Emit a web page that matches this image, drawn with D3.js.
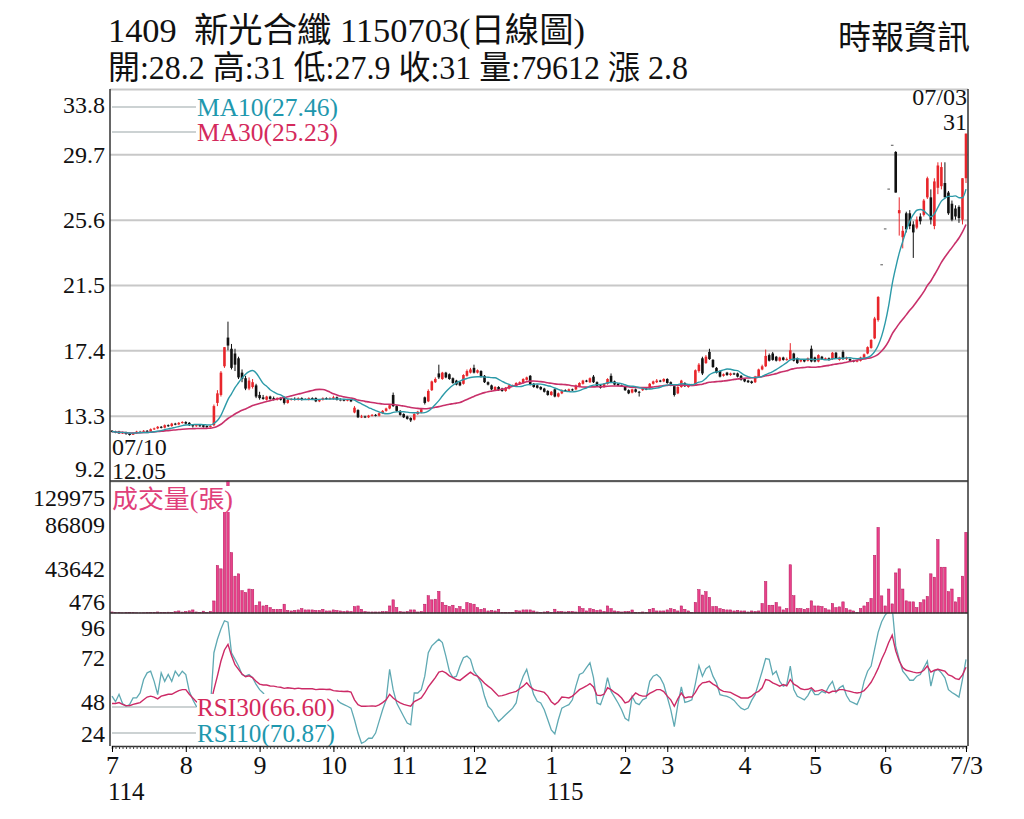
<!DOCTYPE html>
<html>
<head>
<meta charset="utf-8">
<script src="https://cdn.jsdelivr.net/npm/d3@7/dist/d3.min.js"></script>
<style>
body { margin: 0; background: #fff; }
text { font-family: "Liberation Serif", "Noto Sans CJK TC", serif; }
</style>
</head>
<body>
<div class="canvas"></div>
<script>
// daily candles, 2025/07/03 .. 2026/07/03 (one row per month)
const openPrice = [
  12.35,12.3,12.3,12.2,12.25,12.15,12.1,12.2,12.3,12.3,12.35,12.3,12.45,12.5,12.6,12.55,12.7,12.65,12.8,12.75,12.85,
  12.9,12.85,12.7,12.65,12.7,12.7,12.65,12.6,12.7,14.1,14.6,16.4,18.2,17.5,17.2,16.9,16.0,15.65,15.0,15.1,15.2,
  14.6,14.45,14.3,14.5,14.4,14.3,14.4,14.45,14.1,14.3,14.35,14.3,14.4,14.35,14.3,14.4,14.4,14.2,14.3,14.4,14.35,
  14.35,14.45,14.3,14.3,14.25,14.3,13.5,13.65,13.2,13.25,13.2,13.3,13.35,13.3,13.45,13.6,13.75,14.6,13.9,13.6,
  13.4,13.25,13.15,13.05,13.4,13.5,14.45,14.2,14.9,15.4,15.95,15.6,16.0,15.9,15.65,15.5,15.4,15.3,15.8,16.0,
  16.3,16.0,16.1,15.8,15.4,15.2,14.9,15.1,15.0,14.85,15.0,15.15,15.15,15.3,15.35,15.55,15.8,15.3,15.2,15.1,15.0,14.85,
  14.6,14.95,14.5,14.7,14.9,14.85,14.95,14.95,15.15,15.3,15.5,15.4,15.75,15.4,15.2,15.1,15.3,15.8,15.45,15.3,15.2,
  15.1,14.9,14.75,14.95,14.8,14.9,15.0,15.0,15.3,15.4,15.5,15.45,
  15.6,15.4,15.15,14.7,15.1,15.35,15.1,15.2,15.25,16.1,16.9,16.6,17.3,16.8,16.3,16.1,15.8,16.0,15.85,15.95,15.95,15.8,
  15.6,15.5,15.45,15.4,15.75,16.2,16.4,17.1,17.2,17.0,16.75,16.95,16.8,16.85,17.2,16.9,16.7,16.8,16.75,17.5,
  16.95,16.7,17.0,16.85,16.9,16.85,17.25,16.8,17.3,16.85,16.85,16.75,16.7,16.75,16.95,17.2,17.55,18.15,19.3,22.8,
  25.05,27.55,30.3,29.85,26.0,24.5,26.0,26.0,25.3,25.1,25.8,25.9,27.0,27.0,25.2,27.6,27.7,27.9,27.3,26.6,26.3,
  26.4,25.6,28.2
];
const highPrice = [
  12.4,12.35,12.35,12.3,12.3,12.2,12.25,12.35,12.35,12.4,12.4,12.5,12.55,12.65,12.65,12.75,12.75,12.85,12.85,12.9,12.95,
  12.95,12.9,12.75,12.75,12.75,12.75,12.7,12.7,14.0,14.9,16.1,17.6,19.2,17.8,17.5,17.0,16.2,15.8,15.7,15.6,15.3,
  14.8,14.6,14.55,14.55,14.5,14.45,14.45,14.5,14.35,14.4,14.45,14.45,14.45,14.4,14.45,14.45,14.45,14.35,14.45,14.45,14.45,
  14.55,14.5,14.4,14.35,14.35,14.35,13.9,13.7,13.35,13.3,13.35,13.4,13.4,13.5,13.65,13.8,14.0,14.75,13.95,13.65,
  13.45,13.3,13.2,13.45,13.6,13.75,14.5,14.95,15.5,15.7,16.5,16.05,16.05,15.95,15.7,15.55,15.45,15.9,16.2,16.3,
  16.5,16.2,16.15,15.85,15.45,15.25,15.15,15.15,15.05,15.1,15.25,15.25,15.4,15.45,15.65,15.75,15.85,15.35,15.25,15.15,15.05,14.9,
  14.85,15.0,14.75,14.95,14.95,15.0,15.0,15.25,15.4,15.55,15.55,15.7,15.85,15.45,15.25,15.35,15.65,15.95,15.5,15.35,15.25,
  15.15,14.95,15.0,15.0,14.85,15.05,15.05,15.35,15.5,15.6,15.55,15.65,
  15.65,15.45,15.2,15.15,15.55,15.4,15.25,15.3,16.2,16.6,17.0,17.1,17.5,16.85,16.35,16.15,15.95,16.05,16.0,16.0,16.0,15.85,
  15.65,15.55,15.5,15.8,16.25,16.5,17.45,17.2,17.3,17.05,17.0,17.0,16.95,17.85,17.25,16.95,16.85,16.85,16.95,17.7,
  17.0,17.15,17.05,16.95,16.95,17.3,17.3,17.0,17.4,17.0,16.9,16.8,16.8,17.0,17.2,17.65,18.1,19.5,20.8,22.8,
  25.05,27.55,30.3,29.9,27.0,25.2,26.1,26.2,25.5,25.8,26.0,26.9,28.3,27.5,28.2,29.2,29.2,29.2,27.4,26.8,26.5,
  26.5,28.2,31.0
];
const lowPrice = [
  12.25,12.2,12.15,12.15,12.1,12.05,12.1,12.15,12.25,12.25,12.25,12.3,12.4,12.45,12.5,12.5,12.6,12.6,12.7,12.7,12.8,
  12.75,12.65,12.55,12.6,12.6,12.55,12.5,12.55,12.65,13.9,14.5,16.3,17.4,16.2,16.1,15.6,15.4,14.9,14.9,15.0,14.4,
  14.3,14.3,14.25,14.3,14.25,14.25,14.25,14.0,14.05,14.25,14.25,14.25,14.25,14.3,14.25,14.3,14.15,14.15,14.25,14.3,14.3,
  14.3,14.25,14.2,14.2,14.2,14.15,13.45,13.15,13.15,13.15,13.15,13.25,13.25,13.25,13.4,13.55,13.7,13.85,13.55,13.3,
  13.15,13.05,12.9,13.0,13.35,13.45,14.0,14.15,14.85,15.35,15.6,15.55,15.65,15.55,15.3,15.2,15.15,15.25,15.75,15.95,
  15.95,15.95,15.7,15.35,15.2,14.9,14.85,14.85,14.8,14.8,14.95,15.1,15.1,15.25,15.3,15.5,15.2,15.05,15.0,14.9,14.75,14.55,
  14.55,14.45,14.45,14.65,14.8,14.8,14.85,14.9,15.1,15.25,15.4,15.35,15.35,15.1,15.0,15.05,15.25,15.35,15.2,15.15,15.1,
  14.85,14.65,14.7,14.75,14.5,14.85,14.9,14.95,15.25,15.35,15.4,15.4,
  15.3,15.15,14.5,14.65,15.05,15.1,15.05,15.15,15.2,16.0,15.85,16.55,16.8,16.3,15.95,15.7,15.75,15.8,15.8,15.85,15.7,15.5,
  15.4,15.35,15.3,15.35,15.7,16.15,16.35,16.7,16.75,16.7,16.7,16.75,16.75,16.8,16.7,16.55,16.65,16.65,16.7,16.65,
  16.65,16.65,16.8,16.8,16.75,16.8,16.85,16.75,16.8,16.8,16.7,16.65,16.65,16.7,16.9,17.15,17.5,18.1,19.2,22.8,
  25.05,27.55,30.3,27.3,24.6,23.8,24.8,25.0,23.2,25.0,25.3,25.8,26.9,25.3,25.0,27.2,27.5,27.0,25.9,25.5,25.6,
  25.4,25.3,27.9
];
const closePrice = [
  12.3,12.25,12.2,12.25,12.15,12.1,12.2,12.3,12.3,12.35,12.3,12.45,12.5,12.6,12.55,12.7,12.65,12.8,12.75,12.85,12.9,
  12.8,12.7,12.65,12.7,12.65,12.6,12.6,12.65,13.9,14.7,16.0,17.6,17.7,16.3,16.5,15.7,15.6,15.0,15.5,15.4,14.5,
  14.4,14.35,14.5,14.35,14.3,14.4,14.3,14.1,14.3,14.35,14.3,14.4,14.3,14.35,14.4,14.35,14.2,14.3,14.4,14.35,14.4,
  14.45,14.3,14.3,14.25,14.3,14.2,13.8,13.2,13.25,13.2,13.3,13.35,13.3,13.45,13.6,13.75,13.95,13.9,13.6,13.35,
  13.2,13.1,13.0,13.4,13.55,13.7,14.1,14.85,15.45,15.6,15.7,16.0,15.7,15.6,15.35,15.25,15.2,15.85,16.1,16.2,
  16.0,16.15,15.75,15.4,15.25,14.95,15.1,14.9,14.85,15.05,15.2,15.2,15.35,15.4,15.6,15.7,15.25,15.1,15.05,14.95,14.8,14.6,
  14.8,14.5,14.7,14.9,14.85,14.95,14.9,15.2,15.35,15.5,15.45,15.65,15.4,15.15,15.05,15.3,15.6,15.4,15.25,15.2,15.15,
  14.9,14.7,14.95,14.8,14.75,15.0,14.95,15.3,15.45,15.5,15.45,15.6,
  15.35,15.2,14.6,15.1,15.5,15.15,15.2,15.25,16.15,16.5,15.95,17.0,16.85,16.35,16.0,15.75,15.9,15.85,15.95,15.9,15.75,15.55,
  15.45,15.4,15.35,15.75,16.2,16.4,17.05,16.75,16.8,16.75,16.95,16.8,16.85,17.4,16.75,16.6,16.8,16.7,16.9,16.7,
  16.7,17.1,16.85,16.9,16.8,17.25,16.9,16.95,16.85,16.95,16.75,16.7,16.75,16.95,17.15,17.6,18.05,19.4,20.75,22.8,
  25.05,27.55,30.3,27.3,26.2,24.9,25.0,25.2,24.8,25.6,25.5,26.8,28.2,25.6,28.0,29.0,28.9,27.0,26.0,25.6,25.8,
  25.7,28.2,31.0
];
// volume (張)
const volume = [
  1500,900,800,700,900,1200,800,700,600,700,900,800,1200,1500,1000,900,1300,1100,1800,2500,1400,
  2000,2600,3500,1500,1200,2300,800,2000,12300,47100,43800,100000,129975,59700,36600,38900,22400,20600,24000,23400,8100,
  11400,7400,8100,5800,4100,4100,4100,9100,3000,2500,3000,3500,4800,3500,3500,3500,3000,3000,4100,2500,2500,
  3500,3000,2500,2000,2500,2000,6800,7400,4100,2000,1500,1500,1500,1500,1800,2000,7400,13400,5800,2000,
  1500,2000,3500,3500,1500,2000,9100,17400,13400,14000,21700,10800,8100,6800,8100,4800,6800,4100,10800,9800,
  9100,5800,4100,4800,2500,3000,2500,4100,1000,1000,1200,1000,3000,2500,3500,3500,3500,2500,1500,1000,1500,2000,
  1000,4200,2000,2000,1500,2000,2000,1500,6800,4800,2500,4800,4100,3000,3500,2000,7400,4800,2500,2000,1500,
  2000,2000,3450,1200,1000,1500,1000,4100,5100,2500,2500,2500,
  3500,4800,4100,2500,7400,4100,2500,800,10800,23400,18100,21400,15800,6800,6800,4800,4100,3500,3500,2500,3000,2500,
  2500,1500,2500,2000,2500,9800,31300,8100,8100,10800,6500,3500,4800,47800,17400,5000,4800,4100,4800,12400,
  7400,7400,6800,4800,3500,9800,5800,6500,11400,4800,3450,2500,800,4800,7400,10800,14800,57000,84400,17300,
  7400,24000,9400,39800,43800,24000,12400,11400,11400,5800,10800,13400,16700,38900,35600,72500,45400,45400,21400,24000,11400,
  15800,36600,79612
];
const rsi10 = [
  51,48,52,47,45.5,46.4,50,50,52.7,60,63.6,64.5,59,51.8,63.6,59,62.7,59,64.5,61.8,64.5,
  62.7,53.6,49,45.5,44,42,43,45,74.5,81.8,87.3,91.8,91,74.5,70.9,67.3,62.7,61.8,62.7,61,57.3,
  54.5,52.7,50,48,47,45,46,42,44,45,46,47,45,46,47,46,43,45,47,46,48,
  51,49,47.3,46.4,45.5,44.5,38.2,31,25.5,26.4,28.2,28.2,31,37.3,43.6,49,65.5,54.5,47.3,43.6,
  40,36.4,35.5,52.7,52.7,54.5,61.8,74.5,78.2,80,81.8,80,72.7,64.5,61,61.8,67.3,71.8,72.7,70.9,
  64.5,61.8,58.2,50.9,45.5,43.6,40,37.3,39,40.9,42.7,44.5,47.3,56.4,61.8,65.5,58.2,51.8,48.2,47.3,43.6,38.2,
  32.7,30.5,38.2,44.5,45.5,46.4,49,56.4,62.7,63.6,66.4,69,61,47.3,46.4,51.8,61,53.6,50.5,47.3,43.6,
  39,37.7,50.9,47.3,46.4,49,50,59,61.8,62.7,61,57.3,
  50.5,43.6,34.5,46.4,56,47.6,48.2,49,57.8,67.6,61.8,65.8,67.3,61.8,58.2,51.8,51.3,50.9,50,48.7,46.4,44.5,
  43.6,44.5,48.7,51.8,58.2,64.5,71.3,70.9,62.7,64.5,59,56.4,57.3,67.3,54.5,50.9,50,49,51.3,54.9,
  51.8,51.8,53.6,52.7,56.4,59,53,55.5,56.7,51.3,48.2,47.3,46.4,50.9,59,64.5,67.3,76.4,85.5,91.3,
  94.9,97,99,78.2,70.9,64.5,62.2,59.6,59.6,61.8,62.7,66.4,70,56.4,64.5,65.5,63.6,60.9,54.5,53,51.8,
  50.5,60,70.87
];
const rsi30 = [
  47,47,47.5,46.5,45.8,45.8,46.5,47,47.5,49,50.5,51,50.5,49.5,51,51.5,52,52,53,54,54.5,
  54.5,52,50,48,47,46.5,46,46.5,54.5,62,70,76,79,73,68,65.5,63,61.5,62,61,59,
  57.5,57,57,56.5,56.4,56,55.8,55.2,55.5,55.3,55,55.3,55,55,55,55,54.5,54.7,54.8,54.6,54.7,
  54,53.8,53.6,53.5,53.6,53.2,49,46.4,45.5,45.5,45.6,45.7,45.5,46.3,47.5,49,52,50,48.5,47.3,
  46.5,46,45.5,48,49,50,52.7,56,58.5,61,64,64.5,63.6,62,61,60,59.5,61,62.5,64,
  62.5,61.8,60,58,56.4,55,53,51,51.3,51.8,52.5,53,53.6,55,56.4,58.2,56,54.5,54,53.6,53,51,
  48,46.4,48,50.5,50.3,50,51,52.7,54.5,55.5,56.5,57.8,56,51.5,51.3,52,55.5,54.5,53,51.8,50,
  47.3,48,50.5,52.7,51.5,51,51,52.5,53.5,54.5,54.5,53.5,
  51,49,45.5,49.5,52.7,50,50.5,50.5,53,56.4,58.2,58.5,59,57.5,56.4,54.5,53.6,53.3,53,52,51,50,
  50,50,51,52.7,53.6,55.5,60,59.5,58.2,57.3,56.4,57.3,56.5,60,57.5,56.4,55,54.5,54.7,55.5,
  53.6,54,54.5,53.6,52.7,53.6,53.6,54.5,54.5,54,53.6,53,52.7,53,54,56,58.5,62,66,71,
  75,80,84,75.5,70,66.4,65,64.5,64,63.6,63.8,65,67.3,64,65,65.5,65,64.5,62.5,61.8,60.5,
  60,62.5,66.6
];
// first trading day of each month on the axis
const monthStart = [0, 21, 42, 63, 83, 103, 125, 146, 158, 180, 200, 220, 243];
const monthLabel = ["7", "8", "9", "10", "11", "12", "1", "2", "3", "4", "5", "6", "7/3"];
const priceTicks = [9.2, 13.3, 17.4, 21.5, 25.6, 29.7, 33.8];
const volTicks = [476, 43642, 86809, 129975];
const rsiTicks = [24, 48, 72, 96];

[openPrice, highPrice, lowPrice, volume, rsi10, rsi30].forEach((a, k) => {
  if (a.length !== closePrice.length) throw new Error("length mismatch " + k + ": " + a.length + " vs " + closePrice.length)
})

const days = closePrice.map((c, i) => ({
  i: i, o: openPrice[i], h: highPrice[i], l: lowPrice[i], c: c, v: volume[i]
}))

function movingAvg(arr, n) {
  return arr.map((d, i) => d3.mean(arr.slice(Math.max(0, i - n + 1), i + 1)))
}
const ma10 = movingAvg(closePrice, 10)
const ma30 = movingAvg(closePrice, 30)

const svg = d3.select(".canvas")
  .append("svg")
  .attr("width", 1024)
  .attr("height", 819)

// panels
const left = 110, right = 968
const price = { top: 89, bottom: 481 }
const vol = { top: 481, bottom: 613 }
const rsi = { top: 613, bottom: 746 }

const x = d3.scaleLinear().domain([0, closePrice.length - 1]).range([112, 966])
const yP = d3.scaleLinear().domain([9.2, 33.8]).range([price.bottom, price.top])
const yV = d3.scaleLinear().domain([476, 129975]).range([vol.bottom, vol.top]).clamp(true)
const yR = d3.scaleLinear().domain([24, 96]).range([rsi.bottom, rsi.top])

const defs = svg.append("defs")
const clip = (id, p) => defs.append("clipPath").attr("id", id)
  .append("rect").attr("x", left).attr("y", p.top).attr("width", right - left).attr("height", p.bottom - p.top)
clip("clipP", price)
clip("clipR", rsi)

// price grid lines
svg.append("g")
  .attr("transform", `translate(${left},0)`)
  .call(d3.axisLeft(yP).tickValues(priceTicks).tickSize(-(right - left)).tickFormat(""))
  .call(g => g.select(".domain").remove())
  .call(g => g.selectAll("line").attr("stroke", "#c8c8c8").attr("stroke-width", 2))

// axis labels
function sideLabels(scale, ticks, fmt, nudgeTop, nudgeBottom) {
  const g = svg.append("g")
    .attr("transform", `translate(${left},0)`)
    .call(d3.axisLeft(scale).tickValues(ticks).tickSize(0).tickPadding(5).tickFormat(fmt))
  g.select(".domain").remove()
  g.selectAll("text")
    .attr("font-family", "Liberation Serif")
    .attr("font-size", 24)
    .attr("fill", "#111")
    .attr("dy", d => d === ticks[ticks.length - 1] ? nudgeTop : d === ticks[0] ? nudgeBottom : "0.32em")
}
sideLabels(yP, priceTicks, d => d.toFixed(1), 23, -5)
sideLabels(yV, volTicks, d => d, 24, -4)
sideLabels(yR, rsiTicks, d => d, 22, -5)

// candles
const candles = svg.append("g").attr("clip-path", "url(#clipP)")
  .selectAll("g").data(days).enter().append("g")
const col = d => d.c > d.o ? "#e8262b" : d.c < d.o ? "#111" : "#555"
candles.append("line")
  .attr("x1", d => x(d.i)).attr("x2", d => x(d.i))
  .attr("y1", d => yP(d.h)).attr("y2", d => yP(d.l))
  .attr("stroke", col).attr("stroke-width", 1)
candles.append("rect")
  .attr("x", d => x(d.i) - 1.3)
  .attr("width", 2.6)
  .attr("y", d => yP(Math.max(d.o, d.c)))
  .attr("height", d => Math.max(1, Math.abs(yP(d.o) - yP(d.c))))
  .attr("fill", col)

// moving averages
const lineP = d3.line().x((d, i) => x(i)).y(d => yP(d)).curve(d3.curveMonotoneX)
const maG = svg.append("g").attr("clip-path", "url(#clipP)").attr("fill", "none")
maG.append("path").attr("d", lineP(ma30)).attr("stroke", "#c8306a").attr("stroke-width", 1.6)
maG.append("path").attr("d", lineP(ma10)).attr("stroke", "#2c9aa8").attr("stroke-width", 1.4)

// MA legend
const maLegend = [
  { y: 107, text: "MA10(27.46)", color: "#1f98ae" },
  { y: 132, text: "MA30(25.23)", color: "#d42a5c" }
]
maLegend.forEach(m => {
  svg.append("line").attr("x1", 112).attr("x2", 196).attr("y1", m.y).attr("y2", m.y)
    .attr("stroke", "#9aa5a8").attr("stroke-width", 1.2)
  svg.append("text").attr("x", 197).attr("y", m.y + 9).attr("font-size", 25)
    .attr("textLength", 141).attr("lengthAdjust", "spacingAndGlyphs")
    .attr("fill", m.color).text(m.text)
})

// high / low notes
svg.append("text").attr("x", 967).attr("y", 105).attr("text-anchor", "end")
  .attr("font-size", 24).attr("fill", "#111").text("07/03")
svg.append("text").attr("x", 967).attr("y", 130).attr("text-anchor", "end")
  .attr("font-size", 24).attr("fill", "#111").text("31")
svg.append("text").attr("x", 112).attr("y", 455).attr("font-size", 24).attr("fill", "#111").text("07/10")
svg.append("text").attr("x", 112).attr("y", 479).attr("font-size", 24).attr("fill", "#111").text("12.05")

// volume bars
svg.append("g").selectAll("rect").data(days).enter().append("rect")
  .attr("x", d => x(d.i) - 1.2)
  .attr("width", 2.4)
  .attr("y", d => yV(d.v))
  .attr("height", d => vol.bottom - yV(d.v))
  .attr("fill", "#e9418a")
  .attr("stroke", "#b3145a")
  .attr("stroke-width", 0.5)

const volLabel = svg.append("g")
volLabel.append("rect").attr("x", 112).attr("y", 486).attr("width", 122).attr("height", 26).attr("fill", "#fff")
volLabel.append("text").attr("x", 112).attr("y", 508).attr("font-size", 25)
  .attr("textLength", 121).attr("lengthAdjust", "spacingAndGlyphs")
  .attr("fill", "#e0407a").text("成交量(張)")

// RSI lines
const lineR = d3.line().x((d, i) => x(i)).y(d => yR(d))
const rsiG = svg.append("g").attr("clip-path", "url(#clipR)").attr("fill", "none")
rsiG.append("path").attr("d", lineR(rsi10)).attr("stroke", "#5fa9b3").attr("stroke-width", 1.3)
rsiG.append("path").attr("d", lineR(rsi30)).attr("stroke", "#cc2a66").attr("stroke-width", 1.4)

const rsiLegend = [
  { y: 707, text: "RSI30(66.60)", color: "#d42a5c" },
  { y: 733, text: "RSI10(70.87)", color: "#1f98ae" }
]
svg.append("rect").attr("x", 197).attr("y", 694).attr("width", 140).attr("height", 51).attr("fill", "#fff")
rsiLegend.forEach(m => {
  svg.append("line").attr("x1", 112).attr("x2", 196).attr("y1", m.y).attr("y2", m.y)
    .attr("stroke", "#9aa5a8").attr("stroke-width", 1.2)
  svg.append("text").attr("x", 197).attr("y", m.y + 9).attr("font-size", 25)
    .attr("textLength", 138).attr("lengthAdjust", "spacingAndGlyphs")
    .attr("fill", m.color).text(m.text)
})

// frame
const frame = svg.append("g").attr("stroke", "#333").attr("stroke-width", 1.5)
frame.append("line").attr("x1", left).attr("x2", left).attr("y1", price.top).attr("y2", rsi.bottom)
frame.append("line").attr("x1", right).attr("x2", right).attr("y1", price.top).attr("y2", rsi.bottom)
frame.append("line").attr("x1", left).attr("x2", right).attr("y1", price.bottom).attr("y2", price.bottom)
frame.append("line").attr("x1", left).attr("x2", right).attr("y1", vol.bottom).attr("y2", vol.bottom)

// x axis: daily ticks + month labels
svg.append("g")
  .attr("transform", `translate(0,${rsi.bottom})`)
  .call(d3.axisBottom(x).tickValues(d3.range(closePrice.length)).tickSize(3).tickFormat(""))
  .call(g => g.select(".domain").attr("stroke", "#333").attr("stroke-width", 1.5))
  .call(g => g.selectAll("line").attr("stroke", "#444"))
svg.append("g")
  .attr("transform", `translate(0,${rsi.bottom})`)
  .call(d3.axisBottom(x).tickValues(monthStart).tickSize(6).tickPadding(4)
    .tickFormat((d, i) => monthLabel[i]))
  .call(g => g.select(".domain").remove())
  .call(g => g.selectAll("text").attr("font-family", "Liberation Serif").attr("font-size", 26).attr("fill", "#111"))
svg.append("text").attr("x", 108).attr("y", 800).attr("font-size", 25).attr("fill", "#111").text("114")
svg.append("text").attr("x", 547).attr("y", 800).attr("font-size", 25).attr("fill", "#111").text("115")

// titles
svg.append("text").attr("x", 108).attr("y", 42).attr("font-size", 34).attr("fill", "#111")
  .attr("textLength", 477).attr("lengthAdjust", "spacingAndGlyphs")
  .style("white-space", "pre").text("1409  新光合纖 1150703(日線圖)")
svg.append("text").attr("x", 108).attr("y", 79).attr("font-size", 33).attr("fill", "#111")
  .attr("textLength", 580).attr("lengthAdjust", "spacingAndGlyphs")
  .text("開:28.2 高:31 低:27.9 收:31 量:79612 漲 2.8")
svg.append("text").attr("x", 838).attr("y", 49).attr("font-size", 33).attr("fill", "#111")
  .attr("textLength", 132).attr("lengthAdjust", "spacingAndGlyphs")
  .text("時報資訊")
</script>
</body>
</html>
